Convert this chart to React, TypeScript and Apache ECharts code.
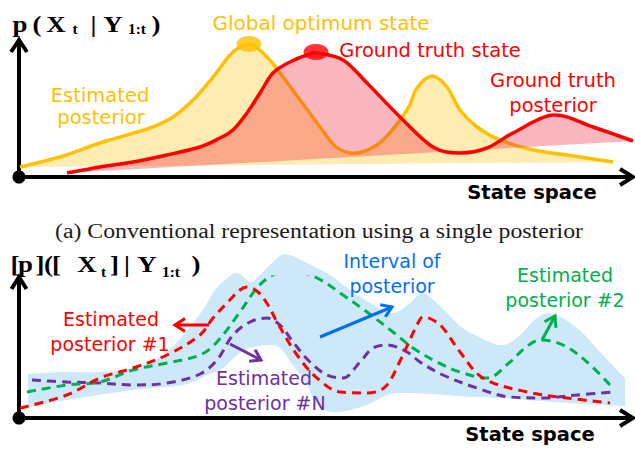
import React, { useEffect, useRef } from "react";
import * as echarts from "echarts";

// ---------- Panel (a): single posterior (x = state, y = density, arbitrary units) ----------
const estimatedPosterior: [number, number][] = [
  [1, 10], [41, 20], [81, 34], [131, 49], [154, 60], [174, 77], [194, 100], [214, 125],
  [231, 133], [248, 120], [264, 100], [281, 77], [301, 50], [316, 31], [331, 24], [346, 26],
  [364, 37], [388, 67], [398, 89], [413, 101], [428, 90], [441, 67], [458, 50], [481, 37],
  [514, 27], [548, 22], [594, 15],
];
const groundTruthPosterior: [number, number][] = [
  [48, 4], [81, 10], [114, 15], [148, 22], [181, 30], [201, 39], [214, 47], [228, 64],
  [241, 84], [254, 104], [271, 115], [288, 122], [298, 124], [324, 117], [348, 94], [381, 60],
  [414, 30], [441, 24], [468, 29], [494, 44], [534, 62], [574, 50], [614, 36],
];
const globalOptimumState: [number, number] = [230, 133];
const groundTruthState: [number, number] = [297, 125];

// ---------- Panel (b): interval of posterior ----------
const intervalUpper: [number, number][] = [
  [9, 44], [41, 46], [81, 46], [114, 50], [148, 66], [181, 104], [196, 128], [211, 142],
  [219, 145], [228, 138], [233, 136], [241, 143], [251, 153], [261, 162], [271, 163], [288, 155],
  [311, 143], [331, 128], [351, 115], [374, 105], [391, 115], [404, 125], [421, 112], [441, 92],
  [458, 82], [481, 73], [498, 80], [518, 100], [534, 104], [558, 90], [581, 66], [596, 50], [606, 40],
];
const intervalLower: [number, number][] = [
  [9, 10], [48, 18], [114, 28], [164, 33], [188, 43], [204, 50], [218, 63], [231, 70],
  [248, 73], [261, 70], [274, 53], [288, 33], [298, 13], [311, 6], [326, 7], [348, 13],
  [366, 22], [381, 25], [414, 24], [451, 21], [481, 20], [548, 15], [606, 12],
];
const estimatedPosterior1: [number, number][] = [
  [1, 10], [48, 23], [81, 40], [114, 50], [148, 63], [181, 83], [194, 100], [208, 115],
  [221, 128], [228, 131], [239, 126], [249, 113], [258, 96], [278, 63], [298, 40], [321, 26],
  [348, 25], [366, 31], [381, 57], [398, 93], [404, 101], [414, 98], [424, 90], [441, 66],
  [464, 40], [508, 26], [548, 20], [591, 15],
];
const estimatedPosterior2: [number, number][] = [
  [8, 26], [48, 33], [81, 36], [114, 48], [148, 55], [181, 63], [198, 76], [221, 106],
  [238, 130], [254, 143], [274, 146], [298, 140], [324, 123], [348, 106], [374, 86], [394, 70],
  [418, 56], [441, 46], [468, 40], [491, 56], [506, 70], [521, 78], [544, 73], [568, 56], [591, 33],
];
const estimatedPosteriorN: [number, number][] = [
  [13, 38], [48, 36], [81, 35], [114, 33], [148, 35], [181, 44], [198, 58], [214, 83],
  [231, 96], [248, 100], [261, 93], [274, 76], [291, 56], [308, 43], [324, 40], [341, 56],
  [354, 70], [368, 73], [388, 66], [401, 56], [424, 43], [458, 30], [491, 21], [524, 20],
  [558, 23], [594, 26],
];

const GOLD = "#FFC000";
const RED = "#FF0000";
const GREEN = "#00B050";
const PURPLE = "#7030A0";
const BLUE = "#0070F0";
const SANS = "'DejaVu Sans', sans-serif";
const SERIF = "'Liberation Serif', 'Times New Roman', serif";

function curveSegs(pts: number[][]): string {
  let d = "";
  for (let i = 0; i < pts.length - 1; i++) {
    const p0 = pts[i - 1] || pts[i];
    const p1 = pts[i];
    const p2 = pts[i + 1];
    const p3 = pts[i + 2] || p2;
    const c1x = p1[0] + (p2[0] - p0[0]) / 6;
    const c1y = p1[1] + (p2[1] - p0[1]) / 6;
    const c2x = p2[0] - (p3[0] - p1[0]) / 6;
    const c2y = p2[1] - (p3[1] - p1[1]) / 6;
    d += ` C ${c1x} ${c1y} ${c2x} ${c2y} ${p2[0]} ${p2[1]}`;
  }
  return d;
}

function posteriorSeries(data: [number, number][], fill: string, stroke: string, z: number) {
  return {
    type: "custom",
    xAxisIndex: 0,
    yAxisIndex: 0,
    data,
    z,
    clip: false,
    silent: true,
    renderItem: (params: any, api: any) => {
      if (params.dataIndex !== 0) return null;
      const px = data.map((p) => api.coord(p));
      const start = `M ${px[0][0]} ${px[0][1]}`;
      const segs = curveSegs(px);
      return {
        type: "group",
        children: [
          { type: "path", shape: { pathData: start + segs + " Z" }, style: { fill, stroke: "none" } },
          { type: "path", shape: { pathData: start + segs }, style: { fill: "none", stroke, lineWidth: 3.5 } },
        ],
      };
    },
  };
}

function dashed(data: [number, number][], color: string, z: number) {
  return {
    type: "line",
    xAxisIndex: 1,
    yAxisIndex: 1,
    data,
    smooth: 0.35,
    showSymbol: false,
    silent: true,
    z,
    lineStyle: { color, width: 3, type: [9, 6] },
  };
}

function txt(text: string, x: number, y: number, color: string, size: number, opts: any = {}) {
  return {
    type: "text",
    x,
    y,
    z: 100,
    silent: true,
    scaleX: opts.scaleX || 1,
    style: {
      text,
      fill: color,
      fontSize: size,
      fontFamily: opts.family || SANS,
      fontWeight: opts.weight || "normal",
      align: opts.align || "center",
      verticalAlign: "middle",
      textAlign: opts.align || "center",
      textVerticalAlign: "middle",
    },
  };
}

function chevron(tip: [number, number], from: [number, number], len: number, half: number, color: string, width: number) {
  const dx = tip[0] - from[0];
  const dy = tip[1] - from[1];
  const l = Math.hypot(dx, dy);
  const ux = dx / l, uy = dy / l;
  const nx = -uy, ny = ux;
  return {
    type: "polyline",
    z: 100,
    silent: true,
    shape: {
      points: [
        [tip[0] - len * ux + half * nx, tip[1] - len * uy + half * ny],
        tip,
        [tip[0] - len * ux - half * nx, tip[1] - len * uy - half * ny],
      ],
    },
    style: { stroke: color, lineWidth: width, fill: "none", lineJoin: "miter" },
  };
}

function arrow(from: [number, number], tip: [number, number], color: string) {
  return [
    {
      type: "line",
      z: 100,
      silent: true,
      shape: { x1: from[0], y1: from[1], x2: tip[0], y2: tip[1] },
      style: { stroke: color, lineWidth: 3 },
    },
    chevron(tip, from, 10, 6.5, color, 3),
  ];
}

const hiddenAxis = {
  axisTick: { show: false },
  axisLabel: { show: false },
  splitLine: { show: false },
  axisLine: { show: true, lineStyle: { color: "#000", width: 4 } },
};

export default function App() {
  const ref = useRef<HTMLDivElement>(null);
  useEffect(() => {
    document.body.style.margin = "0";
    const chart = echarts.init(ref.current!, undefined, { renderer: "svg" });
    const T = { family: SERIF, weight: "bold", scaleX: 1.12 };
    const S = { family: SERIF, weight: "bold", scaleX: 1.1 };
    const titleTop = [
      txt("p", 20, 24, "#000", 24, T),
      txt("(", 37, 24, "#000", 24, T),
      txt("X", 56, 24, "#000", 24, T),
      txt("t", 75, 29.5, "#000", 14, S),
      txt("|", 93.5, 24, "#000", 24, T),
      txt("Y", 113, 24, "#000", 24, T),
      txt("1:t", 137, 29.5, "#000", 14, S),
      txt(")", 156, 24, "#000", 24, T),
    ];
    const titleBottom = [
      txt("[", 15, 264, "#000", 24, T),
      txt("p", 25.5, 264, "#000", 24, T),
      txt("]", 40, 264, "#000", 24, T),
      txt("(", 48.5, 264, "#000", 24, T),
      txt("[", 56.5, 264, "#000", 24, T),
      txt("X", 87, 264, "#000", 24, T),
      txt("t", 103.5, 272.5, "#000", 14, S),
      txt("]", 114.5, 264, "#000", 24, T),
      txt("|", 127, 264, "#000", 24, T),
      txt("Y", 147, 264, "#000", 24, T),
      txt("1:t", 171, 272.5, "#000", 14, S),
      txt(")", 196, 264, "#000", 24, T),
    ];
    const graphics: any[] = [
      ...titleTop,
      ...titleBottom,
      txt("Global optimum state", 321, 22.5, GOLD, 20),
      txt("Ground truth state", 430, 50.5, RED, 19.5),
      txt("Estimated", 100, 95.5, GOLD, 19.5),
      txt("posterior", 101, 117.5, GOLD, 19.5),
      txt("Ground truth", 553, 80.5, RED, 19.5),
      txt("posterior", 553, 105.5, RED, 19.5),
      txt("State space", 532, 192.5, "#000", 19.5, { weight: "bold" }),
      txt("(a) Conventional representation using a single posterior", 319, 231, "#1a1a1a", 20.5, { family: SERIF, scaleX: 1.16 }),
      txt("Estimated", 111, 318.5, RED, 19),
      txt("posterior #1", 110, 343.5, RED, 19),
      txt("Interval of", 392, 261, BLUE, 19),
      txt("posterior", 392, 286, BLUE, 19),
      txt("Estimated", 565, 275, GREEN, 19),
      txt("posterior #2", 565, 300, GREEN, 19),
      txt("Estimated", 264, 378, PURPLE, 19),
      txt("posterior #N", 265, 403, PURPLE, 19),
      txt("State space", 530, 434.5, "#000", 19.5, { weight: "bold" }),
      // axis arrow heads
      chevron([19, 40], [19, 177], 12, 8, "#000", 4),
      chevron([633, 177], [19, 177], 13, 8, "#000", 4),
      chevron([19, 277], [19, 418], 12, 7.5, "#000", 4),
      chevron([633, 418], [19, 418], 13, 8, "#000", 4),
      // origin dots
      { type: "circle", z: 100, shape: { cx: 19, cy: 177, r: 6.5 }, style: { fill: "#000" } },
      { type: "circle", z: 100, shape: { cx: 19, cy: 418, r: 6.5 }, style: { fill: "#000" } },
      // annotation arrows
      ...arrow([209, 325], [175, 325], RED),
      ...arrow([230, 344], [261, 360], PURPLE),
      ...arrow([320, 337], [392, 307], BLUE),
      ...arrow([542, 340], [555, 316], GREEN),
    ];

    const option: any = {
      animation: false,
      grid: [
        { left: 19, top: 40, width: 613, height: 137 },
        { left: 19, top: 277, width: 613, height: 141 },
      ],
      xAxis: [
        { gridIndex: 0, type: "value", min: 0, max: 613, ...hiddenAxis },
        { gridIndex: 1, type: "value", min: 0, max: 613, ...hiddenAxis },
      ],
      yAxis: [
        { gridIndex: 0, type: "value", min: 0, max: 137, ...hiddenAxis },
        { gridIndex: 1, type: "value", min: 0, max: 141, ...hiddenAxis },
      ],
      series: [
        posteriorSeries(estimatedPosterior, "rgba(255,192,0,0.3)", GOLD, 2),
        posteriorSeries(groundTruthPosterior, "rgba(235,20,50,0.31)", RED, 3),
        {
          type: "scatter",
          xAxisIndex: 0,
          yAxisIndex: 0,
          z: 4,
          silent: true,
          data: [
            { value: globalOptimumState, itemStyle: { color: GOLD } },
            { value: groundTruthState, itemStyle: { color: RED } },
          ],
          symbol: "circle",
          symbolSize: [25, 16],
        },
        {
          type: "custom",
          xAxisIndex: 1,
          yAxisIndex: 1,
          data: intervalUpper,
          z: 1,
          clip: false,
          silent: true,
          renderItem: (params: any, api: any) => {
            if (params.dataIndex !== 0) return null;
            const up = intervalUpper.map((p) => api.coord(p));
            const lo = intervalLower.map((p) => api.coord(p)).reverse();
            const d = `M ${up[0][0]} ${up[0][1]}` + curveSegs(up) + ` L ${lo[0][0]} ${lo[0][1]}` + curveSegs(lo) + " Z";
            return { type: "path", shape: { pathData: d }, style: { fill: "#CDE8F8", stroke: "none" } };
          },
        },
        dashed(estimatedPosteriorN, PURPLE, 3),
        dashed(estimatedPosterior2, GREEN, 4),
        dashed(estimatedPosterior1, RED, 5),
      ],
      graphic: graphics,
    };
    chart.setOption(option);
    return () => chart.dispose();
  }, []);
  return <div ref={ref} style={{ position: "fixed", left: 0, top: 0, width: 635, height: 449, background: "#fff" }} />;
}
